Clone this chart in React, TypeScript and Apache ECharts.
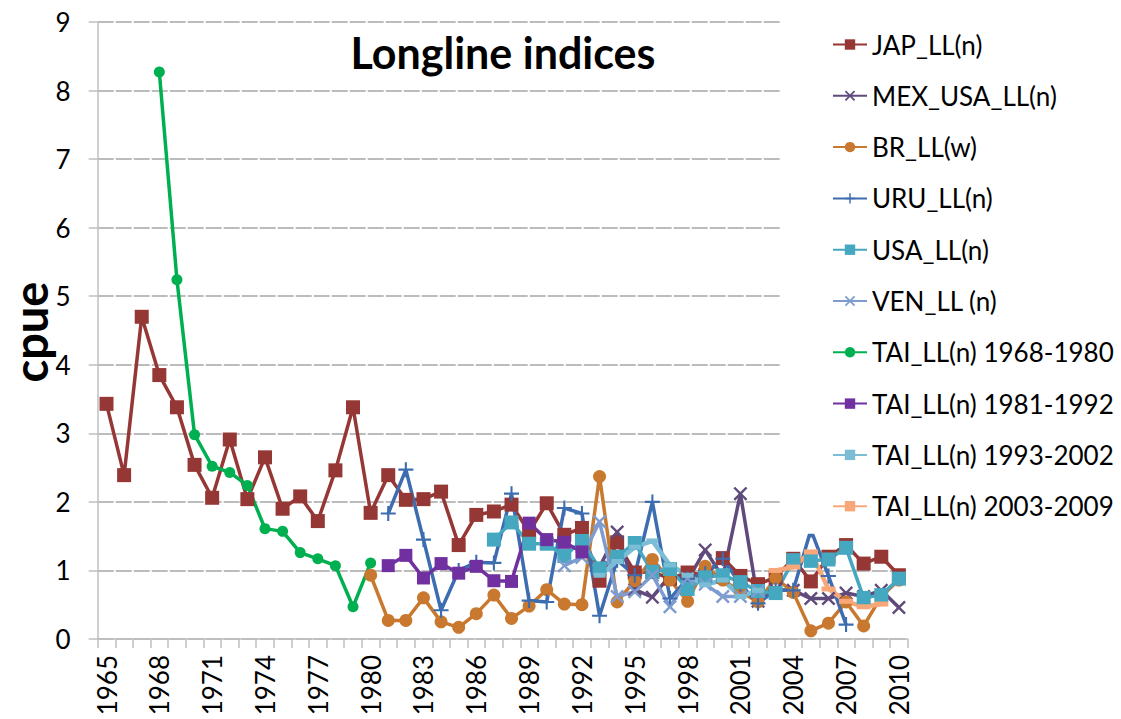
import React, { useEffect, useRef } from "react";
import * as echarts from "echarts";

const years = [
  "1965","1966","1967","1968","1969","1970","1971","1972","1973","1974",
  "1975","1976","1977","1978","1979","1980","1981","1982","1983","1984",
  "1985","1986","1987","1988","1989","1990","1991","1992","1993","1994",
  "1995","1996","1997","1998","1999","2000","2001","2002","2003","2004",
  "2005","2006","2007","2008","2009","2010",
];

// each series: first year + values
const japStart = 1965;
const jap = [3.43, 2.39, 4.70, 3.85, 3.38, 2.54, 2.06, 2.91, 2.04, 2.65, 1.90, 2.08, 1.72, 2.46, 3.38, 1.84,
  2.39, 2.03, 2.04, 2.15, 1.37, 1.81, 1.86, 1.96, 1.56, 1.98, 1.52, 1.62, 0.85, 1.41, 0.97, 0.98, 0.88, 0.97,
  0.93, 1.18, 0.92, 0.80, 0.90, 1.17, 0.84, 1.20, 1.37, 1.10, 1.20, 0.93];

const mexStart = 1993;
const mex = [1.05, 1.56, 0.72, 0.61, 0.93, 0.86, 1.30, 0.90, 2.12, 0.55, 0.72, 0.71, 0.59, 0.59, 0.67, 0.62, 0.71, 0.46];

const brStart = 1980;
const br = [0.93, 0.27, 0.27, 0.60, 0.25, 0.17, 0.37, 0.64, 0.30, 0.48, 0.72, 0.51, 0.50, 2.37, 0.54, 0.85,
  1.16, 0.86, 0.55, 1.06, 0.86, 0.69, 0.54, 0.89, 0.68, 0.12, 0.23, 0.54, 0.19, 0.62, 0.86];

const uruStart = 1981;
const uru = [1.83, 2.47, 1.45, 0.42, 1.00, 1.12, 1.11, 2.12, 0.56, 0.54, 1.91, 1.83, 0.34, 1.15, 0.93, 2.00,
  0.59, 0.88, 0.95, 1.17, 0.80, 0.52, 0.71, 0.71, 1.59, 0.92, 0.21];

const usaStart = 1987;
const usa = [1.45, 1.70, 1.39, 1.39, 1.21, 1.43, 1.03, 1.20, 1.40, 0.98, 1.02, 0.73, 0.90, 0.93, 0.83, 0.70,
  0.67, 1.15, 1.14, 1.16, 1.33, 0.60, 0.64, 0.88];

const venStart = 1991;
const ven = [1.07, 1.19, 1.71, 0.62, 0.69, 0.93, 0.47, 0.88, 0.80, 0.62, 0.62, 0.70];

const tai1Start = 1968;
const tai1 = [8.27, 5.24, 2.98, 2.52, 2.43, 2.24, 1.61, 1.57, 1.26, 1.17, 1.07, 0.47, 1.11];

const tai2Start = 1981;
const tai2 = [1.07, 1.22, 0.89, 1.10, 0.96, 1.06, 0.85, 0.84, 1.69, 1.45, 1.41, 1.27];

const tai3Start = 1993;
const tai3 = [0.93, 1.13, 1.34, 1.43, 1.08, 0.93, 0.79, 0.86, 0.62, 0.71];

const tai4Start = 2003;
const tai4 = [1.00, 1.05, 1.27, 0.73, 0.55, 0.47, 0.51];

const pad = (start: number, vals: number[]) => {
  const out: (number | null)[] = years.map(() => null);
  vals.forEach((v, i) => {
    out[start - 1965 + i] = v;
  });
  return out;
};

const X_PATH = "path://M0,1.2 L1.2,0 L5,3.8 L8.8,0 L10,1.2 L6.2,5 L10,8.8 L8.8,10 L5,6.2 L1.2,10 L0,8.8 L3.8,5 Z";
const PLUS_PATH = "path://M4.3,0 H5.7 V4.3 H10 V5.7 H5.7 V10 H4.3 V5.7 H0 V4.3 H4.3 Z";

const FONT = "Lato, 'Open Sans', sans-serif";

export default function App() {
  const ref = useRef<HTMLDivElement>(null);
  useEffect(() => {
    if (!ref.current) return;
    const chart = echarts.init(ref.current, undefined, { renderer: "svg" });
    const mk = (name: string, data: (number | null)[], color: string, symbol: string, size: any, width = 3.5) => ({
      name,
      type: "line",
      data,
      symbol,
      symbolSize: size,
      showSymbol: true,
      showAllSymbol: true,
      connectNulls: true,
      lineStyle: { color, width },
      itemStyle: { color },
      emphasis: { disabled: true },
    });
    chart.setOption({
      animation: false,
      backgroundColor: "#ffffff",
      textStyle: { fontFamily: FONT },
      grid: { left: 97.7, right: 213.3, top: 22, bottom: 80, containLabel: false },
      graphic: [
        {
          type: "text",
          x: 503,
          y: 52,
          z: 10,
          style: {
            text: "Longline indices",
            font: `bold 43px ${FONT}`,
            fill: "#000",
            textAlign: "center",
            textVerticalAlign: "middle",
          },
        },
        {
          type: "text",
          x: 30,
          y: 332,
          rotation: Math.PI / 2,
          style: {
            text: "cpue",
            font: `bold 47px ${FONT}`,
            fill: "#000",
            textAlign: "center",
            textVerticalAlign: "middle",
          },
        },
      ],
      legend: {
        orient: "vertical",
        left: 780,
        top: 0,
        padding: [31, 2, 14, 52],
        backgroundColor: "#ffffff",
        itemWidth: 34,
        itemHeight: 13,
        itemGap: 24.3,
        selectedMode: false,
        textStyle: { fontSize: 26, color: "#000", fontFamily: FONT, lineHeight: 27 },
        data: [
          "JAP_LL(n)", "MEX_USA_LL(n)", "BR_LL(w)", "URU_LL(n)", "USA_LL(n)", "VEN_LL (n)",
          "TAI_LL(n) 1968-1980", "TAI_LL(n) 1981-1992", "TAI_LL(n) 1993-2002", "TAI_LL(n) 2003-2009",
        ],
      },
      xAxis: {
        type: "category",
        data: years,
        boundaryGap: true,
        axisLine: { show: true, lineStyle: { color: "#BFBFBF", width: 1.5 } },
        axisTick: { show: true, interval: 0, length: 9, lineStyle: { color: "#BFBFBF", width: 1.5 } },
        axisLabel: { interval: 2, rotate: 90, fontSize: 26, color: "#000", margin: 16, fontFamily: FONT },
        splitLine: { show: false },
      },
      yAxis: {
        type: "value",
        min: 0,
        max: 9,
        interval: 1,
        axisLine: { show: true, lineStyle: { color: "#BFBFBF", width: 1.5 } },
        axisTick: { show: true, length: 9, lineStyle: { color: "#BFBFBF", width: 1.5 } },
        axisLabel: { fontSize: 26, color: "#000", margin: 27, fontFamily: FONT },
        splitLine: { show: true, lineStyle: { color: "#A6A6A6", width: 1.5, type: [16, 2] } },
      },
      series: [
        mk("JAP_LL(n)", pad(japStart, jap), "#953735", "rect", 14),
        mk("MEX_USA_LL(n)", pad(mexStart, mex), "#604A7B", X_PATH, 14),
        mk("BR_LL(w)", pad(brStart, br), "#C8792F", "circle", 13),
        mk("URU_LL(n)", pad(uruStart, uru), "#3D6DB0", PLUS_PATH, 15),
        mk("USA_LL(n)", pad(usaStart, usa), "#45A7C0", "rect", 14),
        mk("VEN_LL (n)", pad(venStart, ven), "#7E9CCF", X_PATH, 14),
        mk("TAI_LL(n) 1968-1980", pad(tai1Start, tai1), "#00B050", "circle", 11),
        mk("TAI_LL(n) 1981-1992", pad(tai2Start, tai2), "#7030A0", "rect", 13),
        mk("TAI_LL(n) 1993-2002", pad(tai3Start, tai3), "#7CBDD6", "rect", [12, 5], 4.5),
        mk("TAI_LL(n) 2003-2009", pad(tai4Start, tai4), "#F8A878", "rect", [14, 5], 4.5),
      ],
    });
    return () => chart.dispose();
  }, []);
  return (
    <div
      ref={ref}
      style={{ position: "fixed", left: 0, top: 0, width: 1121, height: 719 }}
    />
  );
}
